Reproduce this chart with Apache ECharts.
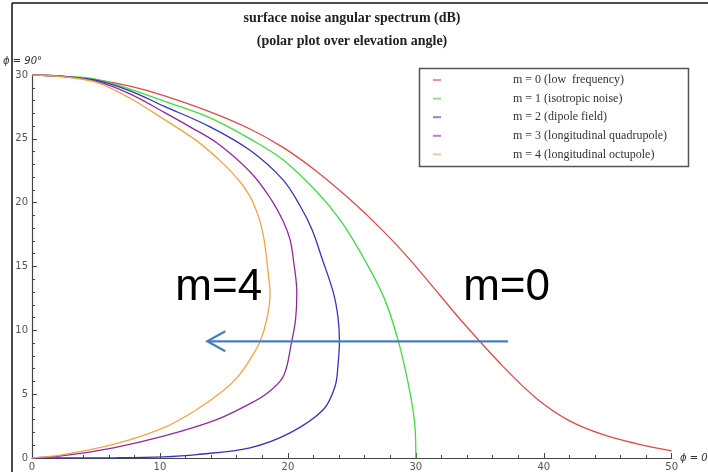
<!DOCTYPE html>
<html><head><meta charset="utf-8">
<script src="https://cdn.jsdelivr.net/npm/echarts@6/dist/echarts.min.js"></script>
<style>html,body{margin:0;padding:0;background:#fff}#c{width:708px;height:472px}</style>
</head><body><div id="c"></div>
<script>
const seriesNames = ['m = 0 (low  frequency)','m = 1 (isotropic noise)','m = 2 (dipole field)','m = 3 (longitudinal quadrupole)','m = 4 (longitudinal octupole)'];
const seriesColors = ['#dd4b4b','#3fdc3f','#3434b8','#8c2c9c','#f2a447'];
const m0Points = [[0,30],[2.5,29.9],[5,29.63],[7.66,29.12],[10.24,28.4],[13.92,27.11],[17.04,25.77],[19.62,24.33],[22.28,22.43],[24.87,20.24],[27.44,17.79],[29.55,15.52],[31.9,12.73],[33.7,10.59],[36.83,7.16],[39.48,4.63],[42.06,2.89],[44.64,1.83],[47.3,1.11],[50,0.56]];
const m1Points = [[0,30],[2.5,29.9],[5.06,29.66],[7.66,28.9],[10.27,27.97],[13.92,26.64],[17.04,25.0],[19.62,23.36],[22.26,20.85],[24.08,18.66],[25.64,16.16],[27.47,12.66],[28.64,9.14],[29.55,5.1],[29.95,2.23],[30,0]];
const m2Points = [[0,30],[2.5,29.89],[5.06,29.58],[7.66,28.76],[10.27,27.58],[13.92,25.94],[17.04,24.1],[19.62,21.79],[20.95,19.76],[21.89,17.88],[22.65,15.69],[23.56,12.93],[23.92,10.99],[24.03,9.14],[23.92,7.32],[23.69,5.62],[22.78,3.8],[20.17,1.97],[17.04,0.8],[12.88,0.27],[10.27,0.09],[6.62,0.02],[0,0]];
const m3Points = [[0,30],[2.5,29.87],[5.06,29.5],[7.66,28.52],[10.27,27.11],[12.35,25.94],[14.44,24.69],[17.04,22.42],[18.61,20.38],[19.65,18.51],[20.17,17.1],[20.43,15.53],[20.7,12.93],[20.6,10.84],[20.3,9.14],[19.65,6.4],[18.35,5.05],[17.04,4.26],[14.44,3.01],[10.27,1.71],[6.36,0.8],[2.45,0.18],[0,0]];
const m4Points = [[0,30],[2.5,29.85],[5.06,29.42],[7.66,28.18],[10.27,26.56],[12.88,24.84],[14.96,23.04],[16.26,21.64],[17.04,20.49],[17.51,19.44],[17.83,18.51],[18.14,17.1],[18.35,15.53],[18.49,14.2],[18.61,12.93],[18.36,10.9],[17.83,9.14],[17.04,7.71],[16.03,6.3],[14.86,5.2],[12.88,3.8],[10.27,2.36],[6.36,1.06],[2.45,0.27],[0,0]];
const allPoints = [m0Points,m1Points,m2Points,m3Points,m4Points];
const arrowFrom = [37.2, 9.14];
const arrowTo = [13.7, 9.14];
const labelM4 = {text:'m=4', at:[11.2, 11.6]};
const labelM0 = {text:'m=0', at:[33.7, 11.6]};

const chart = echarts.init(document.getElementById('c'), null, {renderer:'canvas'});
const axisCol = '#444';
const option = {
  backgroundColor:'#fff',
  animation:false,
  title:{text:'surface noise angular spectrum (dB)\n(polar plot over elevation angle)', left:352, textAlign:'center', top:7, padding:0,
    textStyle:{fontFamily:'Liberation Serif', fontSize:14, fontWeight:'bold', color:'#222', lineHeight:23}},
  grid:{left:32, right:36.3, top:75, bottom:13.5, containLabel:false},
  legend:{orient:'vertical', left:433, top:74, itemWidth:8, itemHeight:2, itemGap:6.6, padding:0, icon:'rect',
    data:seriesNames, itemStyle:{opacity:0.6},
    textStyle:{fontFamily:'Liberation Serif', fontSize:12, color:'#333', padding:[0,0,0,67], lineHeight:12}},
  xAxis:{type:'value', min:0, max:50, interval:10,
    axisLine:{lineStyle:{color:axisCol, width:1.2}},
    axisTick:{inside:true, length:5, lineStyle:{color:axisCol}},
    minorTick:{show:true, splitNumber:5, length:3, lineStyle:{color:axisCol}},
    splitLine:{show:false},
    axisLabel:{margin:4, color:'#555', fontFamily:'DejaVu Sans', fontSize:10}},
  yAxis:{type:'value', min:0, max:30, interval:5,
    axisLine:{show:true, lineStyle:{color:axisCol, width:1.2}},
    axisTick:{show:true, inside:true, length:5, lineStyle:{color:axisCol}},
    minorTick:{show:true, splitNumber:5, length:3, lineStyle:{color:axisCol}},
    splitLine:{show:false},
    axisLabel:{margin:4, color:'#555', fontFamily:'DejaVu Sans', fontSize:10}},
  series: allPoints.map((pts,i)=>({
    name:seriesNames[i], type:'line', data:pts, smooth:0.35, symbol:'none', showSymbol:false,
    lineStyle:{color:seriesColors[i], width:1.3}, itemStyle:{color:seriesColors[i]}, z:2+i
  }))
};
chart.setOption(option);

const p1 = chart.convertToPixel({gridIndex:0}, arrowFrom);
const p2 = chart.convertToPixel({gridIndex:0}, arrowTo);
const t4 = chart.convertToPixel({gridIndex:0}, labelM4.at);
const t0 = chart.convertToPixel({gridIndex:0}, labelM0.at);
const arrowCol = '#4a7ebb';
chart.setOption({graphic:[
  {type:'rect', shape:{x:419.5, y:68.5, width:269, height:98}, style:{fill:null, stroke:'#555', lineWidth:1.5}, z:1},
  {type:'line', shape:{x1:12, y1:3, x2:708, y2:3}, style:{stroke:'#111', lineWidth:1.5}},
  {type:'line', shape:{x1:12, y1:3, x2:12, y2:472}, style:{stroke:'#111', lineWidth:1.5}},
  {type:'text', left:3, top:56, style:{text:'ϕ = 90°', font:'italic 10px DejaVu Sans', fill:'#333'}},
  {type:'text', left:680, top:453, style:{text:'ϕ = 0', font:'italic 10px DejaVu Sans', fill:'#333'}},
  {type:'polyline', shape:{points:[[p1[0],p1[1]],[p2[0],p2[1]]]}, style:{stroke:arrowCol, lineWidth:2.2}, z:20},
  {type:'polyline', shape:{points:[[p2[0]+18,p2[1]-10],[p2[0],p2[1]],[p2[0]+18,p2[1]+10]]}, style:{stroke:arrowCol, lineWidth:2.2, fill:null}, z:20},
  {type:'text', x:t4[0], y:t4[1], style:{text:labelM4.text, font:'44px Liberation Sans', fill:'#000', textVerticalAlign:'bottom'}, z:20},
  {type:'text', x:t0[0], y:t0[1], style:{text:labelM0.text, font:'44px Liberation Sans', fill:'#000', textVerticalAlign:'bottom'}, z:20}
]});
</script></body></html>
